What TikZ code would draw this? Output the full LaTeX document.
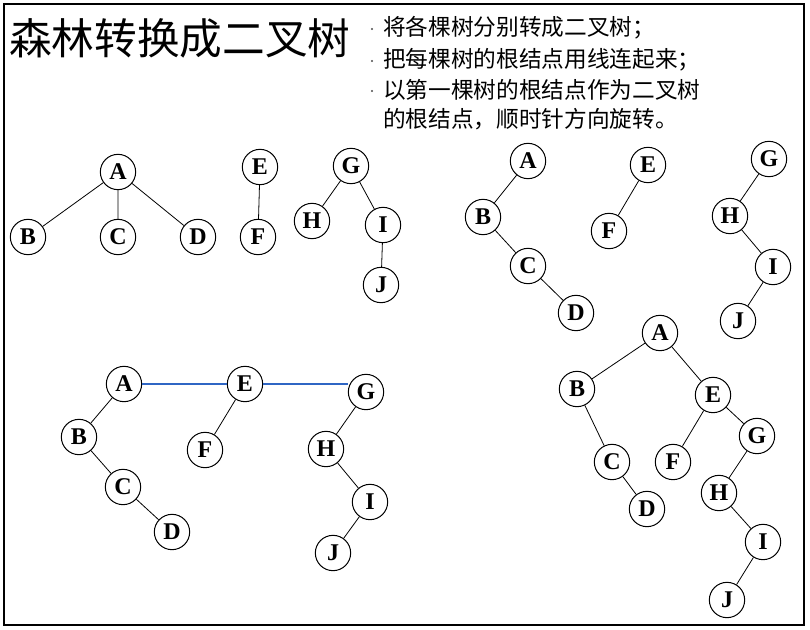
\documentclass[tikz,border=0pt]{standalone}
\usepackage{fontspec}
\setmainfont{Liberation Serif}
\newfontfamily\cjk{Noto Sans CJK SC}
\definecolor{linkblue}{RGB}{47,102,196}
\begin{document}
\begin{tikzpicture}[x=0.75pt,y=-0.75pt,
  nd/.style={circle,draw,line width=0.75pt,minimum size=26.5pt,inner sep=0pt,font=\fontsize{18}{18}\selectfont\bfseries},
  ed/.style={line width=0.6pt},
  link/.style={line width=0.9pt,draw=linkblue},
  title/.style={anchor=west,inner sep=0pt,font=\cjk\fontsize{32}{32}\selectfont},
  bl/.style={anchor=west,inner sep=0pt,font=\cjk\fontsize{17}{17}\selectfont},
  bdot/.style={fill=black!70}]
\useasboundingbox (0,0) rectangle (810,629);
\draw[line width=1.5pt] (4,4) rectangle (804,625);

\node[title] (ttl) at (9,38) {森林转换成二叉树};
\fill[bdot] (372,29) circle[radius=0.9pt];
\fill[bdot] (372,61) circle[radius=0.9pt];
\fill[bdot] (372,91) circle[radius=0.9pt];
\node[bl] (l1) at (383,28) {将各棵树分别转成二叉树；};
\node[bl] (l2) at (383,60) {把每棵树的根结点用线连起来；};
\node[bl] (l3) at (383,90) {以第一棵树的根结点作为二叉树};
\node[bl] (l4) at (383,119) {的根结点，顺时针方向旋转。};

% forest
\node[nd] (aA) at (118,172) {A};
\node[nd] (aB) at (28,237) {B};
\node[nd] (aC) at (118,237) {C};
\node[nd] (aD) at (198,237) {D};
\node[nd] (aE) at (260,167) {E};
\node[nd] (aF) at (258,237) {F};
\node[nd] (aG) at (351,166) {G};
\node[nd] (aH) at (312,221) {H};
\node[nd] (aI) at (383,225) {I};
\node[nd] (aJ) at (381,285) {J};
\draw[ed] (aA) -- (aB) (aA) -- (aC) (aA) -- (aD) (aE) -- (aF)
          (aG) -- (aH) (aG) -- (aI) (aI) -- (aJ);

% each tree as binary tree
\node[nd] (bA) at (528,161) {A};
\node[nd] (bB) at (483,217) {B};
\node[nd] (bC) at (528,266) {C};
\node[nd] (bD) at (576,313) {D};
\node[nd] (bE) at (648,165) {E};
\node[nd] (bF) at (609,231) {F};
\node[nd] (bG) at (769,159) {G};
\node[nd] (bH) at (730,216) {H};
\node[nd] (bI) at (773,267) {I};
\node[nd] (bJ) at (738,321) {J};
\draw[ed] (bA) -- (bB) (bB) -- (bC) (bC) -- (bD) (bE) -- (bF)
          (bG) -- (bH) (bH) -- (bI) (bI) -- (bJ);

% roots linked
\node[nd] (cA) at (124,384) {A};
\node[nd] (cB) at (79,437) {B};
\node[nd] (cC) at (123,487) {C};
\node[nd] (cD) at (172,532) {D};
\node[nd] (cE) at (245,384) {E};
\node[nd] (cF) at (205,450) {F};
\node[nd] (cG) at (366,392) {G};
\node[nd] (cH) at (326,449) {H};
\node[nd] (cI) at (370,502) {I};
\node[nd] (cJ) at (333,553) {J};
\draw[ed] (cA) -- (cB) (cB) -- (cC) (cC) -- (cD) (cE) -- (cF)
          (cG) -- (cH) (cH) -- (cI) (cI) -- (cJ);
\draw[link] (cA) -- (cE);
\draw[link] (cE.east) -- (cE.east -| cG.west);

% result
\node[nd] (dA) at (660,333) {A};
\node[nd] (dB) at (577,389) {B};
\node[nd] (dC) at (612,462) {C};
\node[nd] (dD) at (647,509) {D};
\node[nd] (dE) at (713,395) {E};
\node[nd] (dF) at (673,462) {F};
\node[nd] (dG) at (757,436) {G};
\node[nd] (dH) at (719,493) {H};
\node[nd] (dI) at (763,542) {I};
\node[nd] (dJ) at (727,600) {J};
\draw[ed] (dA) -- (dB) (dB) -- (dC) (dC) -- (dD) (dA) -- (dE) (dE) -- (dF)
          (dE) -- (dG) (dG) -- (dH) (dH) -- (dI) (dI) -- (dJ);
\end{tikzpicture}
\end{document}
